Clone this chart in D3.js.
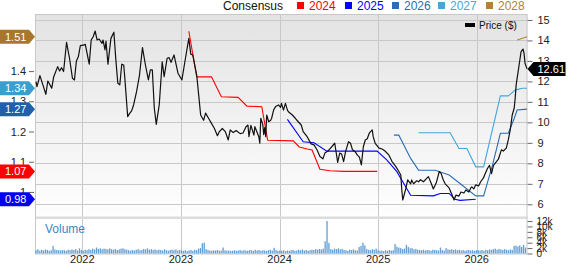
<!DOCTYPE html>
<html>
<head>
<meta charset="utf-8">
<script src="https://cdn.jsdelivr.net/npm/d3@7"></script>
<style>
  body { margin: 0; background: #fff; }
  svg { display: block; font-family: "Liberation Sans", Arial, sans-serif; }
</style>
</head>
<body>
<div id="chart"></div>
<script>
// ---- data (time as decimal years) ----
const yearTicks = [2022, 2023, 2024, 2025, 2026]
const priceTicks = [6, 7, 8, 9, 10, 11, 12, 13, 14, 15]
const epsTicks = [1, 1.1, 1.2, 1.3, 1.4]
const volTicks = [0, 2, 4, 6, 8, 10, 12]
const legendYears = ["2024", "2025", "2026", "2027", "2028"]

const price = [
  [2021.53,11.99],[2021.54,11.74],[2021.57,12.28],[2021.60,11.83],[2021.63,11.37],[2021.65,12.02],[2021.69,11.67],
  [2021.71,12.23],[2021.75,12.72],[2021.77,12.51],[2021.79,12.67],[2021.81,12.48],[2021.84,13.91],[2021.87,13.13],
  [2021.90,12.15],[2021.92,12.07],[2021.94,13.0],[2021.96,13.21],[2021.98,13.75],[2022.02,13.78],[2022.03,13.81],
  [2022.07,12.84],[2022.09,14.02],[2022.11,14.18],[2022.13,14.46],[2022.15,14.02],[2022.17,14.07],[2022.20,13.86],
  [2022.21,14.02],[2022.23,13.54],[2022.24,13.97],[2022.26,12.84],[2022.29,14.10],[2022.32,14.40],[2022.34,13.05],
  [2022.36,11.91],[2022.38,11.83],[2022.40,12.84],[2022.42,12.80],[2022.43,12.23],[2022.46,10.28],[2022.48,10.44],
  [2022.50,10.56],[2022.52,10.85],[2022.55,11.5],[2022.58,12.31],[2022.61,13.65],[2022.64,12.80],[2022.67,12.07],
  [2022.69,12.56],[2022.71,12.56],[2022.73,10.69],[2022.75,9.9],[2022.78,10.85],[2022.81,12.96],[2022.83,12.23],
  [2022.86,13.13],[2022.88,13.16],[2022.90,12.93],[2022.93,13.29],[2022.97,12.40],[2023.01,12.07],[2023.04,12.96],
  [2023.08,14.10],[2023.10,13.33],[2023.12,13.29],[2023.14,12.80],[2023.16,12.31],[2023.18,11.34],[2023.20,10.36],
  [2023.23,10.1],[2023.25,10.45],[2023.28,10.2],[2023.31,9.95],[2023.34,9.7],[2023.37,9.35],[2023.39,9.55],
  [2023.42,9.7],[2023.45,9.55],[2023.48,9.14],[2023.50,9.63],[2023.53,9.50],[2023.56,9.6],[2023.60,9.45],
  [2023.63,9.48],[2023.66,9.79],[2023.68,9.87],[2023.69,9.30],[2023.71,9.85],[2023.74,9.38],[2023.75,9.79],
  [2023.79,9.30],[2023.80,8.98],[2023.81,10.2],[2023.83,9.9],[2023.84,9.4],[2023.85,9.75],[2023.86,9.30],
  [2023.87,10.36],[2023.89,10.03],[2023.91,10.1],[2023.92,10.2],[2023.94,10.6],[2023.96,10.77],[2023.99,10.85],
  [2024.01,10.73],[2024.02,10.93],[2024.04,10.6],[2024.06,10.93],[2024.08,10.6],[2024.09,10.52],[2024.13,10.36],
  [2024.16,10.2],[2024.19,10.03],[2024.22,9.87],[2024.24,9.55],[2024.28,9.30],[2024.32,8.95],[2024.35,8.9],
  [2024.38,8.66],[2024.41,8.33],[2024.44,8.22],[2024.46,8.5],[2024.49,8.6],[2024.53,8.81],[2024.56,8.98],
  [2024.59,8.05],[2024.61,8.5],[2024.63,8.45],[2024.65,8.08],[2024.67,8.57],[2024.70,9.06],[2024.72,8.98],
  [2024.74,8.66],[2024.77,8.55],[2024.79,8.4],[2024.81,8.3],[2024.83,7.92],[2024.85,8.81],[2024.87,9.14],
  [2024.89,9.2],[2024.91,9.47],[2024.94,9.63],[2024.95,9.3],[2024.97,8.98],[2025.01,8.74],[2025.04,8.7],
  [2025.07,8.6],[2025.11,8.4],[2025.14,8.1],[2025.18,7.84],[2025.21,7.6],[2025.23,7.43],[2025.24,6.7],
  [2025.25,6.21],[2025.28,6.75],[2025.30,7.19],[2025.33,7.0],[2025.34,7.19],[2025.36,7.0],[2025.39,7.15],
  [2025.41,7.1],[2025.43,7.2],[2025.46,7.1],[2025.49,7.25],[2025.51,7.35],[2025.54,7.0],[2025.56,6.75],
  [2025.59,7.05],[2025.62,7.6],[2025.64,7.5],[2025.66,7.2],[2025.68,7.0],[2025.72,6.8],[2025.75,6.45],
  [2025.77,6.21],[2025.79,6.45],[2025.82,6.4],[2025.84,6.6],[2025.87,6.55],[2025.89,6.7],[2025.92,6.6],
  [2025.94,6.8],[2025.95,6.85],[2025.97,6.75],[2025.99,6.95],[2026.02,6.9],[2026.04,7.1],[2026.07,7.3],
  [2026.08,7.43],[2026.11,7.76],[2026.13,7.9],[2026.15,7.5],[2026.17,7.9],[2026.20,8.08],[2026.22,8.2],
  [2026.25,8.66],[2026.27,8.6],[2026.30,8.74],[2026.32,9.14],[2026.34,9.63],[2026.36,10.36],[2026.38,10.69],
  [2026.39,11.18],[2026.40,11.83],[2026.42,12.48],[2026.44,13.13],[2026.45,13.45],[2026.47,13.58],[2026.48,13.37],
  [2026.49,12.88],[2026.51,12.61]
]

// consensus EPS estimates per fiscal year
const eps2024 = [[2023.08,1.532],[2023.16,1.381],[2023.31,1.381],[2023.41,1.315],[2023.58,1.313],[2023.67,1.284],
  [2023.82,1.282],[2023.88,1.171],[2024.14,1.169],[2024.20,1.149],[2024.28,1.142],[2024.33,1.139],[2024.41,1.075],
  [2024.51,1.070],[2024.65,1.068],[2024.99,1.068]]
const eps2025 = [[2024.08,1.240],[2024.24,1.166],[2024.35,1.163],[2024.48,1.135],[2024.99,1.135],[2025.09,1.105],
  [2025.19,1.067],[2025.26,1.028],[2025.33,0.989],[2025.56,0.987],[2025.63,0.995],[2025.72,0.995],[2025.78,0.976],
  [2025.83,0.972],[2025.99,0.976]]
const eps2026 = [[2025.16,1.188],[2025.21,1.188],[2025.33,1.111],[2025.41,1.072],[2025.58,1.072],[2025.72,1.056],
  [2025.85,1.023],[2025.99,0.987],[2026.07,0.987],[2026.16,1.089],[2026.24,1.194],[2026.32,1.194],[2026.38,1.243],
  [2026.41,1.271],[2026.51,1.274]]
const eps2027 = [[2025.41,1.196],[2025.73,1.196],[2025.82,1.144],[2025.90,1.144],[2025.99,1.083],[2026.07,1.083],
  [2026.24,1.318],[2026.32,1.318],[2026.39,1.337],[2026.46,1.343],[2026.51,1.343]]
const eps2028 = [[2026.41,1.503],[2026.51,1.514]]

// weekly volume, thousands of shares
const volStart = 2021.53
const volumeK = [
  1.2,1.6,1.0,1.4,1.1,1.5,1.3,1.0,1.2,2.8,1.5,1.3,1.2,1.1,1.3,1.2,1.0,1.4,1.2,1.5,1.3,1.6,1.1,1.9,1.3,1.0,
  1.4,1.2,1.6,1.3,1.8,1.5,2.2,1.7,1.9,1.6,1.8,1.7,1.5,1.9,1.6,1.4,1.7,1.3,1.5,1.8,1.9,1.6,1.4,1.2,1.0,1.3,
  1.1,1.4,1.6,1.2,1.3,1.7,1.5,1.9,1.4,1.6,1.3,1.5,1.2,1.4,1.3,1.1,1.6,1.2,1.0,1.3,1.4,1.2,1.5,1.1,1.3,1.2,
  1.0,1.2,0.9,1.1,1.3,1.0,1.4,1.2,1.8,2.0,3.8,4.0,1.6,1.3,1.1,1.0,1.2,1.1,1.3,1.0,1.1,2.2,1.2,1.0,1.1,0.9,
  1.0,1.2,1.0,1.1,1.3,1.0,1.2,1.1,1.0,1.3,1.2,1.0,1.4,1.1,1.3,1.0,1.2,1.1,1.0,1.2,1.4,1.1,2.1,1.3,1.0,1.1,
  1.0,1.2,0.9,1.1,1.0,1.2,1.3,1.0,1.1,1.4,1.2,1.5,1.1,1.3,1.0,1.2,1.4,1.3,1.6,1.4,1.7,1.5,1.8,4.5,12.0,3.9,
  1.6,1.4,1.8,1.6,1.9,1.5,1.7,1.3,1.2,1.0,1.4,1.3,1.5,1.2,1.1,2.4,2.8,4.0,3.0,1.6,1.3,1.2,1.6,1.4,1.8,1.2,
  1.0,1.1,0.9,1.2,1.0,1.3,1.1,1.2,3.5,2.5,2.2,2.0,1.6,1.8,3.2,2.4,1.9,2.0,1.5,1.7,1.4,1.3,1.2,1.4,1.1,1.3,
  1.2,1.0,1.4,1.3,1.2,1.1,2.2,1.3,1.0,2.0,1.5,1.4,1.6,1.3,1.5,1.2,1.4,1.1,1.3,1.0,1.2,1.3,1.1,1.2,1.0,1.2,
  1.2,1.1,1.3,1.0,1.4,1.2,1.5,1.3,1.6,1.8,1.4,1.7,1.5,1.3,1.6,1.4,1.2,1.5,1.3,2.8,2.9,2.6,3.0,2.4,3.2,2.2
]

// ---- layout ----
const width = 568
const height = 264
const plot = { left: 35, right: 527.5, top: 14, bottom: 217 }
const vol = { top: 219, bottom: 253.5 }
const colors = { "2024": "#ff0000", "2025": "#0000ff", "2026": "#2a6db5", "2027": "#45a7d6", "2028": "#b5803a" }
const boxColors = { "2024": "#ff0000", "2025": "#0000ee", "2026": "#1f5fab", "2027": "#3a9fcf", "2028": "#a8772c" }
const epsSeries = [
  { key: "2024", data: eps2024 },
  { key: "2025", data: eps2025 },
  { key: "2026", data: eps2026 },
  { key: "2027", data: eps2027 },
  { key: "2028", data: eps2028 }
]

const x = d3.scaleLinear([2021.52, 2026.515], [plot.left, plot.right])
const yPrice = d3.scaleLinear([5.38, 15.29], [plot.bottom, plot.top])
const yEps = d3.scaleLinear([0.917, 1.589], [plot.bottom, plot.top])
const yVol = d3.scaleLinear([0, 12.75], [vol.bottom, vol.top])

const svg = d3.select("#chart").append("svg")
  .attr("width", width)
  .attr("height", height)

const grad = svg.append("defs").append("linearGradient")
  .attr("id", "bg")
  .attr("x1", 0).attr("y1", 0).attr("x2", 0).attr("y2", 1)
grad.append("stop").attr("offset", "0%").attr("stop-color", "#e3e3e3")
grad.append("stop").attr("offset", "100%").attr("stop-color", "#fefefe")

svg.append("rect")
  .attr("x", plot.left).attr("y", plot.top)
  .attr("width", plot.right - plot.left).attr("height", plot.bottom - plot.top)
  .attr("fill", "url(#bg)")

// grid
svg.append("g")
  .selectAll("line")
  .data(priceTicks)
  .enter()
  .append("line")
  .attr("x1", plot.left).attr("x2", plot.right)
  .attr("y1", d => Math.round(yPrice(d)) + 0.5)
  .attr("y2", d => Math.round(yPrice(d)) + 0.5)
  .attr("stroke", "#c8c8c8")

svg.append("g")
  .selectAll("line")
  .data(yearTicks)
  .enter()
  .append("line")
  .attr("x1", d => Math.round(x(d)) + 0.5).attr("x2", d => Math.round(x(d)) + 0.5)
  .attr("y1", plot.top).attr("y2", vol.bottom)
  .attr("stroke", "#c8c8c8")

// panel separator and frame
svg.append("rect")
  .attr("x", plot.left).attr("y", plot.bottom - 0.5)
  .attr("width", plot.right - plot.left).attr("height", 2.5)
  .attr("fill", "#dcdcdc")
svg.append("rect")
  .attr("x", plot.left + 0.5).attr("y", plot.top + 0.5)
  .attr("width", plot.right - plot.left - 1).attr("height", vol.bottom - plot.top)
  .attr("fill", "none")
  .attr("stroke", "#c8c8c8")

// volume bars
svg.append("g")
  .selectAll("rect")
  .data(volumeK)
  .enter()
  .append("rect")
  .attr("x", (d, i) => x(volStart + i * 7 / 365.25) - 0.6)
  .attr("width", 1.3)
  .attr("y", d => yVol(d))
  .attr("height", d => yVol(0) - yVol(d))
  .attr("fill", "#5f9ed6")

svg.append("text")
  .attr("x", 45).attr("y", 233)
  .attr("font-size", 12)
  .attr("fill", "#3b87c6")
  .text("Volume")

// consensus lines
const epsLine = d3.line().x(d => x(d[0])).y(d => yEps(d[1]))
svg.append("g")
  .selectAll("path")
  .data(epsSeries)
  .enter()
  .append("path")
  .attr("d", d => epsLine(d.data))
  .attr("fill", "none")
  .attr("stroke", d => colors[d.key])
  .attr("stroke-width", 1.1)

// price line
const priceLine = d3.line().x(d => x(d[0])).y(d => yPrice(d[1]))
svg.append("path")
  .attr("d", priceLine(price))
  .attr("fill", "none")
  .attr("stroke", "#111")
  .attr("stroke-width", 1.2)
  .attr("stroke-linejoin", "round")

// axes
const rightAxis = svg.append("g")
  .attr("transform", `translate(${plot.right},0)`)
  .call(d3.axisRight(yPrice).tickValues(priceTicks).tickSize(5).tickPadding(5))
const leftAxis = svg.append("g")
  .attr("transform", `translate(${plot.left - 1},0)`)
  .call(d3.axisLeft(yEps).tickValues(epsTicks).tickSize(5).tickPadding(3)
    .tickFormat(d => d === 1 ? "1" : d3.format(".1f")(d)))
const volAxis = svg.append("g")
  .attr("transform", `translate(${plot.right},0)`)
  .call(d3.axisRight(yVol).tickValues(volTicks).tickSize(5).tickPadding(4)
    .tickFormat(d => d === 0 ? "0" : d + "k"))

for (const g of [rightAxis, leftAxis, volAxis]) {
  g.select(".domain").remove()
  g.selectAll("line").attr("stroke", "#666")
  g.selectAll("text").attr("font-size", 11).attr("fill", "#222")
    .attr("font-family", "Liberation Sans, Arial, sans-serif")
}
volAxis.selectAll("text").attr("font-size", 10)

svg.append("g")
  .selectAll("text")
  .data(yearTicks)
  .enter()
  .append("text")
  .attr("x", d => x(d))
  .attr("y", 263)
  .attr("text-anchor", "middle")
  .attr("font-size", 11)
  .attr("fill", "#222")
  .text(d => d)

// left value flags for each consensus line
const flags = svg.append("g")
  .selectAll("g")
  .data(epsSeries)
  .enter()
  .append("g")
  .attr("transform", d => `translate(0,${yEps(d.data[d.data.length - 1][1])})`)
flags.append("path")
  .attr("d", "M0,-7H29L35,0L29,7H0Z")
  .attr("fill", d => boxColors[d.key])
flags.append("text")
  .attr("x", 5).attr("y", 4)
  .attr("font-size", 11)
  .attr("fill", "#fff")
  .text(d => d3.format(".2f")(d.data[d.data.length - 1][1]))

// last price flag
const lastPrice = price[price.length - 1][1]
const pf = svg.append("g")
  .attr("transform", `translate(${plot.right},${yPrice(lastPrice)})`)
pf.append("path")
  .attr("d", "M0,0L6,-7H38V7H6Z")
  .attr("fill", "#000")
pf.append("text")
  .attr("x", 10).attr("y", 4)
  .attr("font-size", 11)
  .attr("fill", "#fff")
  .text(d3.format(".2f")(lastPrice))

// legend
const legend = svg.append("g").attr("font-size", 12)
legend.append("text").attr("x", 223).attr("y", 9.5).attr("fill", "#111").text("Consensus")
const legendX = [297, 345, 392, 438, 486]
legendYears.forEach((yr, i) => {
  legend.append("rect")
    .attr("x", legendX[i]).attr("y", 2)
    .attr("width", 7).attr("height", 7)
    .attr("fill", colors[yr])
  legend.append("text")
    .attr("x", legendX[i] + 12).attr("y", 9.5)
    .attr("fill", colors[yr])
    .text(yr)
})

svg.append("rect")
  .attr("x", 465).attr("y", 23)
  .attr("width", 10).attr("height", 4)
  .attr("fill", "#000")
svg.append("text")
  .attr("x", 479).attr("y", 29)
  .attr("font-size", 10)
  .attr("fill", "#111")
  .text("Price ($)")
</script>
</body>
</html>
